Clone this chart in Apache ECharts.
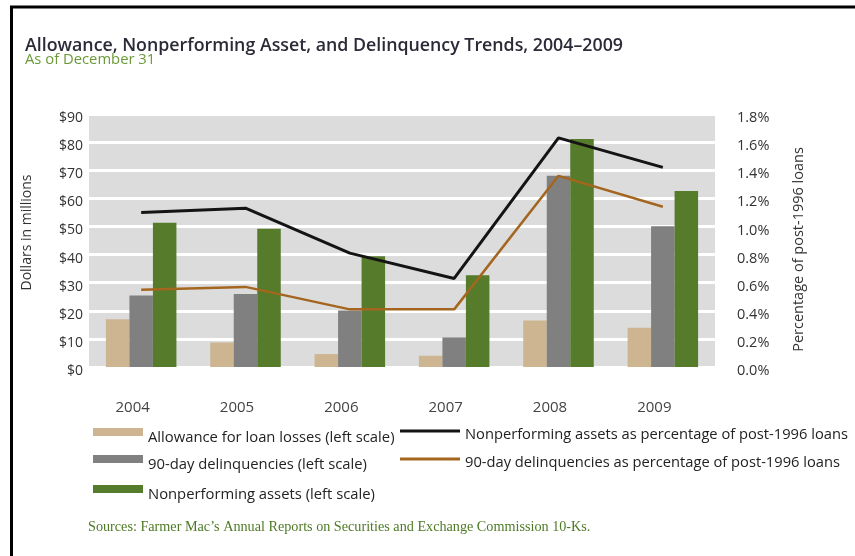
<!DOCTYPE html>
<html>
<head>
<meta charset="utf-8">
<title>Allowance, Nonperforming Asset, and Delinquency Trends</title>
<script src="https://cdn.jsdelivr.net/npm/echarts@6/dist/echarts.min.js"></script>
<style>
  html, body { margin: 0; padding: 0; background: #fff; }
  #chart { width: 855px; height: 556px; }
</style>
</head>
<body>
<div id="chart"></div>
<script>
// Year-end figures, 2004–2009 (dollars in millions, percentages of post-1996 loans)
const years = ['2004', '2005', '2006', '2007', '2008', '2009'];
const allowance = [17.0, 8.7, 4.6, 4.0, 16.5, 14.0];
const delinquencies = [25.4, 26.0, 20.1, 10.5, 68.0, 50.1];
const nonperforming = [51.3, 49.2, 39.4, 32.6, 81.1, 62.6];
const nonperformingPct = [1.10, 1.13, 0.81, 0.63, 1.63, 1.42];
const delinquencyPct = [0.55, 0.57, 0.41, 0.41, 1.36, 1.14];

const dollarTicks = ['$0', '$10', '$20', '$30', '$40', '$50', '$60', '$70', '$80', '$90'];
const percentTicks = ['0.0%', '0.2%', '0.4%', '0.6%', '0.8%', '1.0%', '1.2%', '1.4%', '1.6%', '1.8%'];

const seriesNames = {
  allowance: 'Allowance for loan losses (left scale)',
  delinquencies: '90-day delinquencies (left scale)',
  nonperforming: 'Nonperforming assets (left scale)',
  nonperformingPct: 'Nonperforming assets as percentage of post-1996 loans',
  delinquencyPct: '90-day delinquencies as percentage of post-1996 loans'
};

const colors = {
  tan: '#cdb592',
  gray: '#808080',
  green: '#557b2b',
  black: '#141414',
  brown: '#a4661f'
};

const FONT = '"Open Sans", "Noto Sans", sans-serif';

const chart = echarts.init(document.getElementById('chart'), null, { renderer: 'canvas' });

// legend captions sit slightly lower than their swatches
function legendText(size, drop) {
  return {
    formatter: (name) => '{t|' + name + '}',
    textStyle: {
      rich: { t: { fontFamily: FONT, fontSize: size, color: '#222', padding: [drop, 0, 0, 0] } }
    }
  };
}
function barLegend(name, top) {
  return Object.assign({
    data: [name], orient: 'vertical', left: 93, top: top, padding: 0,
    itemWidth: 50, itemHeight: 8, itemGap: 0, icon: 'rect',
    selectedMode: false
  }, legendText(14.8, 12));
}
function lineLegend(name, top) {
  return Object.assign({
    data: [name], orient: 'vertical', left: 400, top: top, padding: 0,
    itemWidth: 60, itemHeight: 3, itemGap: 0, icon: 'rect', itemTextGap: 4,
    selectedMode: false
  }, legendText(14.7, 7));
}

// tick labels sit a few pixels below their grid lines
const tickRich = (size) => ({
  t: { fontFamily: FONT, fontSize: size, color: '#333', padding: [8, 0, 0, 0] }
});

const option = {
  backgroundColor: '#ffffff',
  animation: false,
  title: [
    {
      text: 'Allowance, Nonperforming Asset, and Delinquency Trends, 2004\u20132009',
      left: 20, top: 32,
      textStyle: { fontFamily: FONT, fontSize: 17.8, fontWeight: 600, color: '#2b2b38' }
    },
    {
      text: 'As of December 31',
      left: 20, top: 47,
      textStyle: { fontFamily: FONT, fontSize: 14.8, fontWeight: 'normal', color: '#6a9a38' }
    },
    {
      text: 'Sources: Farmer Mac\u2019s Annual Reports on Securities and Exchange Commission 10-Ks.',
      left: 83, top: 515,
      textStyle: { fontFamily: '"Liberation Serif", "DejaVu Serif", serif', fontSize: 14.2, fontWeight: 'normal', color: '#4e7a26' }
    }
  ],
  legend: [
    barLegend(seriesNames.allowance, 428),
    barLegend(seriesNames.delinquencies, 455),
    barLegend(seriesNames.nonperforming, 485),
    lineLegend(seriesNames.nonperformingPct, 427),
    lineLegend(seriesNames.delinquencyPct, 455)
  ],
  grid: {
    left: 89, right: 140, top: 114, bottom: 189,
    show: true, backgroundColor: '#dcdcdc', borderWidth: 0
  },
  xAxis: {
    type: 'category',
    data: years,
    boundaryGap: true,
    axisLine: { show: false },
    axisTick: { show: false },
    splitLine: { show: false },
    axisLabel: {
      margin: 33, fontFamily: FONT, fontSize: 15, color: '#444',
      padding: [0, 17, 0, 0]
    }
  },
  yAxis: [
    {
      type: 'value', min: 0, max: 90, interval: 10, position: 'left',
      name: 'Dollars in millions', nameLocation: 'middle', nameGap: 55, nameRotate: 90,
      nameTextStyle: { fontFamily: FONT, fontSize: 14, color: '#333', padding: [0, 0, 0, 16] },
      axisLine: { show: false }, axisTick: { show: false },
      splitLine: { show: true, lineStyle: { color: '#ffffff', width: 3 } },
      axisLabel: {
        margin: 6,
        formatter: (v) => '{t|' + dollarTicks[Math.round(v / 10)] + '}',
        rich: tickRich(14)
      }
    },
    {
      type: 'value', min: 0, max: 1.8, interval: 0.2, position: 'right',
      name: 'Percentage of post-1996 loans', nameLocation: 'middle', nameGap: 76, nameRotate: 90,
      nameTextStyle: { fontFamily: FONT, fontSize: 14.5, color: '#333', padding: [0, 18, 0, 0] },
      axisLine: { show: false }, axisTick: { show: false },
      splitLine: { show: false },
      axisLabel: {
        margin: 22,
        formatter: (v) => '{t|' + percentTicks[Math.round(v / 0.2)] + '}',
        rich: tickRich(14.5)
      }
    }
  ],
  series: [
    {
      name: seriesNames.allowance, type: 'bar', yAxisIndex: 0,
      data: allowance, barWidth: 23.5, barGap: '0%',
      itemStyle: { color: colors.tan }
    },
    {
      name: seriesNames.delinquencies, type: 'bar', yAxisIndex: 0,
      data: delinquencies, barWidth: 23.5, barGap: '0%',
      itemStyle: { color: colors.gray }
    },
    {
      name: seriesNames.nonperforming, type: 'bar', yAxisIndex: 0,
      data: nonperforming, barWidth: 23.5, barGap: '0%',
      itemStyle: { color: colors.green }
    },
    {
      name: seriesNames.nonperformingPct, type: 'line', yAxisIndex: 1,
      data: nonperformingPct, symbol: 'none', z: 5,
      lineStyle: { color: colors.black, width: 3 },
      itemStyle: { color: colors.black }
    },
    {
      name: seriesNames.delinquencyPct, type: 'line', yAxisIndex: 1,
      data: delinquencyPct, symbol: 'none', z: 4,
      lineStyle: { color: colors.brown, width: 2.5 },
      itemStyle: { color: colors.brown }
    }
  ],
  graphic: [
    { type: 'line', shape: { x1: 10, y1: 7, x2: 855, y2: 7 }, style: { stroke: '#000', lineWidth: 3 }, silent: true },
    { type: 'line', shape: { x1: 11.5, y1: 6, x2: 11.5, y2: 556 }, style: { stroke: '#000', lineWidth: 3 }, silent: true }
  ]
};

chart.setOption(option);
</script>
</body>
</html>
